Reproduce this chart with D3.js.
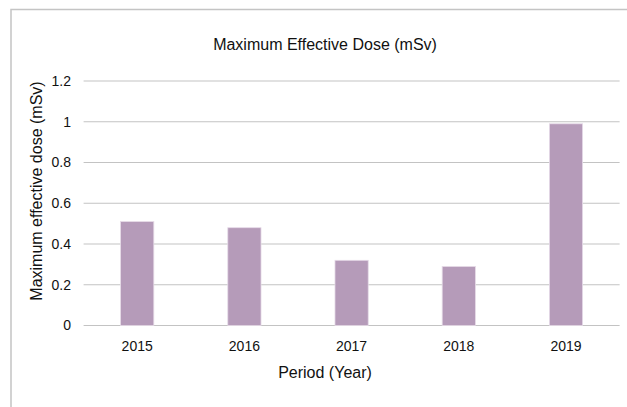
<!DOCTYPE html>
<html><head><meta charset="utf-8">
<script src="https://cdn.jsdelivr.net/npm/d3@7"></script>
<style>body{margin:0;background:#fff}svg{display:block}text{font-family:"Liberation Sans",Arial,Helvetica,sans-serif;fill:#111}</style>
</head><body>
<script>
const categories = ["2015","2016","2017","2018","2019"];
const values = [0.51, 0.48, 0.32, 0.29, 0.99];
const yTicks = [0, 0.2, 0.4, 0.6, 0.8, 1, 1.2];
const title = "Maximum Effective Dose (mSv)";
const xTitle = "Period (Year)";
const yTitle = "Maximum effective dose (mSv)";

const W = 627, H = 407;
const svg = d3.select("body").append("svg").attr("width", W).attr("height", H);

// chart border
svg.append("rect").attr("x", 11).attr("y", 9.5).attr("width", 640).attr("height", 420)
  .attr("fill", "none").attr("stroke", "#c4c4c4").attr("stroke-width", 1.5);

const x = d3.scaleBand().domain(categories).range([83.6, 619.6]).paddingInner(0.69).paddingOuter(0.345);
const y = d3.scaleLinear().domain([0, 1.2]).range([325.5, 81]);

// gridlines
svg.append("g").selectAll("line").data(yTicks).join("line")
  .attr("x1", 83.6).attr("x2", 619.6)
  .attr("y1", d => y(d)).attr("y2", d => y(d))
  .attr("stroke", "#c3c3c3").attr("stroke-width", 1.2);

// bars
svg.append("g").selectAll("rect").data(values).join("rect")
  .attr("x", (d, i) => x(categories[i]))
  .attr("width", x.bandwidth())
  .attr("y", d => y(d))
  .attr("height", d => y(0) - y(d))
  .attr("fill", "#b59bb9")
  .attr("stroke", "#e6dbe8").attr("stroke-width", 0.8);

// y tick labels
svg.append("g").selectAll("text").data(yTicks).join("text")
  .attr("x", 71).attr("y", d => y(d)).attr("dy", "0.35em")
  .attr("text-anchor", "end").attr("font-size", 14)
  .text(d => d3.format("~g")(d));

// x tick labels
svg.append("g").selectAll("text").data(categories).join("text")
  .attr("x", d => x(d) + x.bandwidth() / 2).attr("y", 346).attr("dy", "0.35em")
  .attr("text-anchor", "middle").attr("font-size", 14)
  .text(d => d);

// titles
svg.append("text").attr("x", 325).attr("y", 44).attr("dy", "0.35em")
  .attr("text-anchor", "middle").attr("font-size", 16).text(title);
svg.append("text").attr("x", 325).attr("y", 372).attr("dy", "0.35em")
  .attr("text-anchor", "middle").attr("font-size", 16).text(xTitle);
svg.append("text").attr("transform", "translate(36,191) rotate(-90)").attr("dy", "0.35em")
  .attr("text-anchor", "middle").attr("font-size", 16).text(yTitle);
</script>
</body></html>
